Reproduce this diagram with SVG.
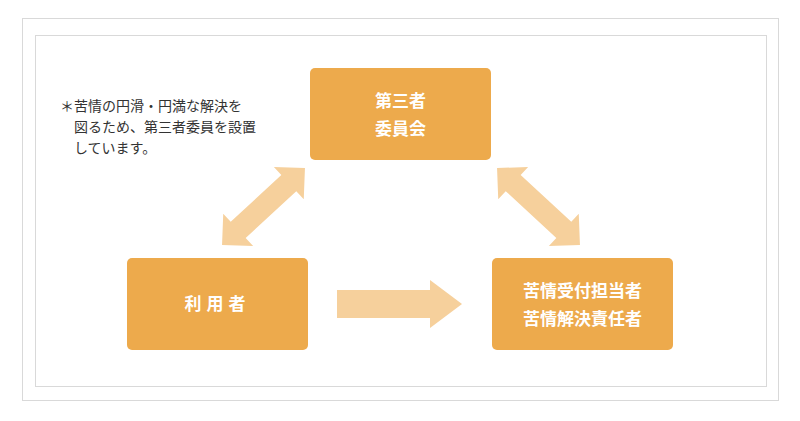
<svg xmlns="http://www.w3.org/2000/svg" width="800" height="421" viewBox="0 0 800 421">
<style>
.box{fill:#EDAA4C}
.arr{fill:#F6D09C}
.bt{fill:#fff;font-family:"Noto Sans CJK JP","Noto Sans",sans-serif;font-size:17px;font-weight:bold;text-anchor:middle}
.note{fill:#333;font-family:"Noto Sans CJK JP",sans-serif;font-size:14px}
</style>
<rect width="800" height="421" fill="#fff"/>
<rect x="22.5" y="18.5" width="756" height="382" fill="none" stroke="#d9d9d9"/>
<rect x="35.5" y="35.5" width="731" height="351" fill="none" stroke="#d9d9d9"/>
<g id="connectors">
<polygon class="arr" transform="translate(263.5,206.5) rotate(-42.8)" points="-56.5,0 -34.5,-22 -34.5,-11 34.5,-11 34.5,-22 56.5,0 34.5,22 34.5,11 -34.5,11 -34.5,22"/>
<polygon class="arr" transform="translate(538.5,206.5) rotate(42.8)" points="-56.5,0 -34.5,-22 -34.5,-11 34.5,-11 34.5,-22 56.5,0 34.5,22 34.5,11 -34.5,11 -34.5,22"/>
<polygon class="arr" points="337,290 430,290 430,280 462,304 430,328 430,318 337,318"/>
</g>
<g id="node-top"><rect class="box" x="310" y="68" width="181" height="92" rx="5"/>
<text class="bt" x="400.5" y="107">第三者</text><text class="bt" x="400.5" y="135">委員会</text></g>
<g id="node-left"><rect class="box" x="127" y="258" width="181" height="92" rx="5"/>
<text class="bt" x="217.5" y="310" letter-spacing="5">利用者</text></g>
<g id="node-right"><rect class="box" x="492" y="258" width="181" height="92" rx="5"/>
<text class="bt" x="582.5" y="297">苦情受付担当者</text><text class="bt" x="582.5" y="325">苦情解決責任者</text></g>
<g id="note"><text class="note" x="60" y="111">＊苦情の円滑・円満な解決を</text>
<text class="note" x="74" y="132">図るため、第三者委員を設置</text>
<text class="note" x="74" y="153">しています。</text></g>
</svg>
